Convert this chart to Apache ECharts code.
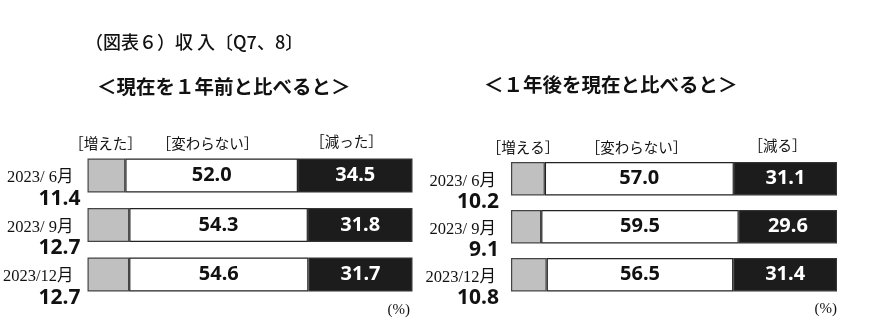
<!DOCTYPE html>
<html><head><meta charset="utf-8">
<script src="https://cdn.jsdelivr.net/npm/echarts@6/dist/echarts.min.js"></script>
<style>html,body{margin:0;padding:0;background:#fff}#c{width:869px;height:333px}</style>
</head><body><div id="c"></div>
<script>
// ---- data ----
const dates = ['2023/ 6月', '2023/ 9月', '2023/12月'];
const pastUp = [11.4, 12.7, 12.7];
const pastSame = [52.0, 54.3, 54.6];
const pastDown = [34.5, 31.8, 31.7];
const futUp = [10.2, 9.1, 10.8];
const futSame = [57.0, 59.5, 56.5];
const futDown = [31.1, 29.6, 31.4];
const mainTitle = '（図表６）収 入〔Q7、8〕';
const subTitles = ['＜現在を１年前と比べると＞', '＜１年後を現在と比べると＞'];
const pastHeaders = ['［増えた］', '［変わらない］', '［減った］'];
const futHeaders = ['［増える］', '［変わらない］', '［減る］'];
const unitLabel = '(%)';

const JP = '"Noto Sans CJK JP", sans-serif';
const SERIF = '"Liberation Serif", "Noto Sans CJK JP", serif';
const NUM = '"Noto Sans", "Noto Sans CJK JP", sans-serif';
const GREY = '#c0c0c0', BLACK = '#1c1c1c';

function makeSeries(gi, up, same, down, barW, dist, datePad) {
  const t = up.map((v, i) => v + same[i] + down[i]);
  const mk = (arr) => arr.map((v, i) => ({ value: v / t[i] * 100, raw: v }));
  const base = { type: 'bar', stack: 's' + gi, xAxisIndex: gi, yAxisIndex: gi, barWidth: barW };
  return [
    Object.assign({}, base, { data: mk(up), itemStyle: { color: GREY, borderColor: '#444', borderWidth: 1.2 },
      label: { show: true, position: 'left', distance: dist, offset: [0, 13.5],
        formatter: p => '{d|' + dates[p.dataIndex] + '}\n{v|' + p.data.raw.toFixed(1) + '}',
        rich: { d: { fontFamily: SERIF, fontSize: 16.5, lineHeight: 20, color: '#111', padding: [0, datePad, 0, 0] },
                v: { fontFamily: NUM, fontSize: 21, fontWeight: 'bold', lineHeight: 22, color: '#111' } } } }),
    Object.assign({}, base, { data: mk(same), itemStyle: { color: '#fff', borderColor: '#222', borderWidth: 1.2 },
      label: { show: true, position: 'inside', formatter: p => p.data.raw.toFixed(1),
        fontFamily: NUM, fontSize: 20, fontWeight: 'bold', color: '#111' } }),
    Object.assign({}, base, { data: mk(down), itemStyle: { color: BLACK, borderColor: '#333', borderWidth: 1.2 },
      label: { show: true, position: 'inside', formatter: p => p.data.raw.toFixed(1),
        fontFamily: NUM, fontSize: 20, fontWeight: 'bold', color: '#fff' } })
  ];
}

const txt = (s, x, y, opt) => ({ type: 'text', x: x, y: y,
  style: Object.assign({ text: s, textAlign: 'center', textVerticalAlign: 'middle', fill: '#111', font: '14.5px ' + JP }, opt || {}) });

const chart = echarts.init(document.getElementById('c'), null, { renderer: 'canvas' });
chart.setOption({
  animation: false,
  grid: [
    { left: 87.5, top: 150.75, width: 325, height: 148.5 },
    { left: 511, top: 154.7, width: 326, height: 144 }
  ],
  xAxis: [
    { gridIndex: 0, type: 'value', min: 0, max: 100, show: false },
    { gridIndex: 1, type: 'value', min: 0, max: 100, show: false }
  ],
  yAxis: [
    { gridIndex: 0, type: 'category', data: dates, inverse: true, show: false },
    { gridIndex: 1, type: 'category', data: dates, inverse: true, show: false }
  ],
  series: [].concat(
    makeSeries(0, pastUp, pastSame, pastDown, 34, 7, 7),
    makeSeries(1, futUp, futSame, futDown, 33.5, 12, 3)
  ),
  graphic: [
    txt(mainTitle, 85, 42, { textAlign: 'left', font: '500 18px ' + JP }),
    txt(subTitles[0], 97, 87, { textAlign: 'left', font: 'bold 19.5px ' + JP }),
    txt(subTitles[1], 484, 85, { textAlign: 'left', font: 'bold 19.5px ' + JP }),
    txt(pastHeaders[0], 105.5, 143),
    txt(pastHeaders[1], 207.5, 143),
    txt(pastHeaders[2], 346.5, 141),
    txt(futHeaders[0], 523, 147),
    txt(futHeaders[1], 636.5, 147),
    txt(futHeaders[2], 777.5, 145),
    txt(unitLabel, 410, 310, { textAlign: 'right', font: '15px ' + SERIF }),
    txt(unitLabel, 837, 309, { textAlign: 'right', font: '15px ' + SERIF })
  ]
});
</script></body></html>
